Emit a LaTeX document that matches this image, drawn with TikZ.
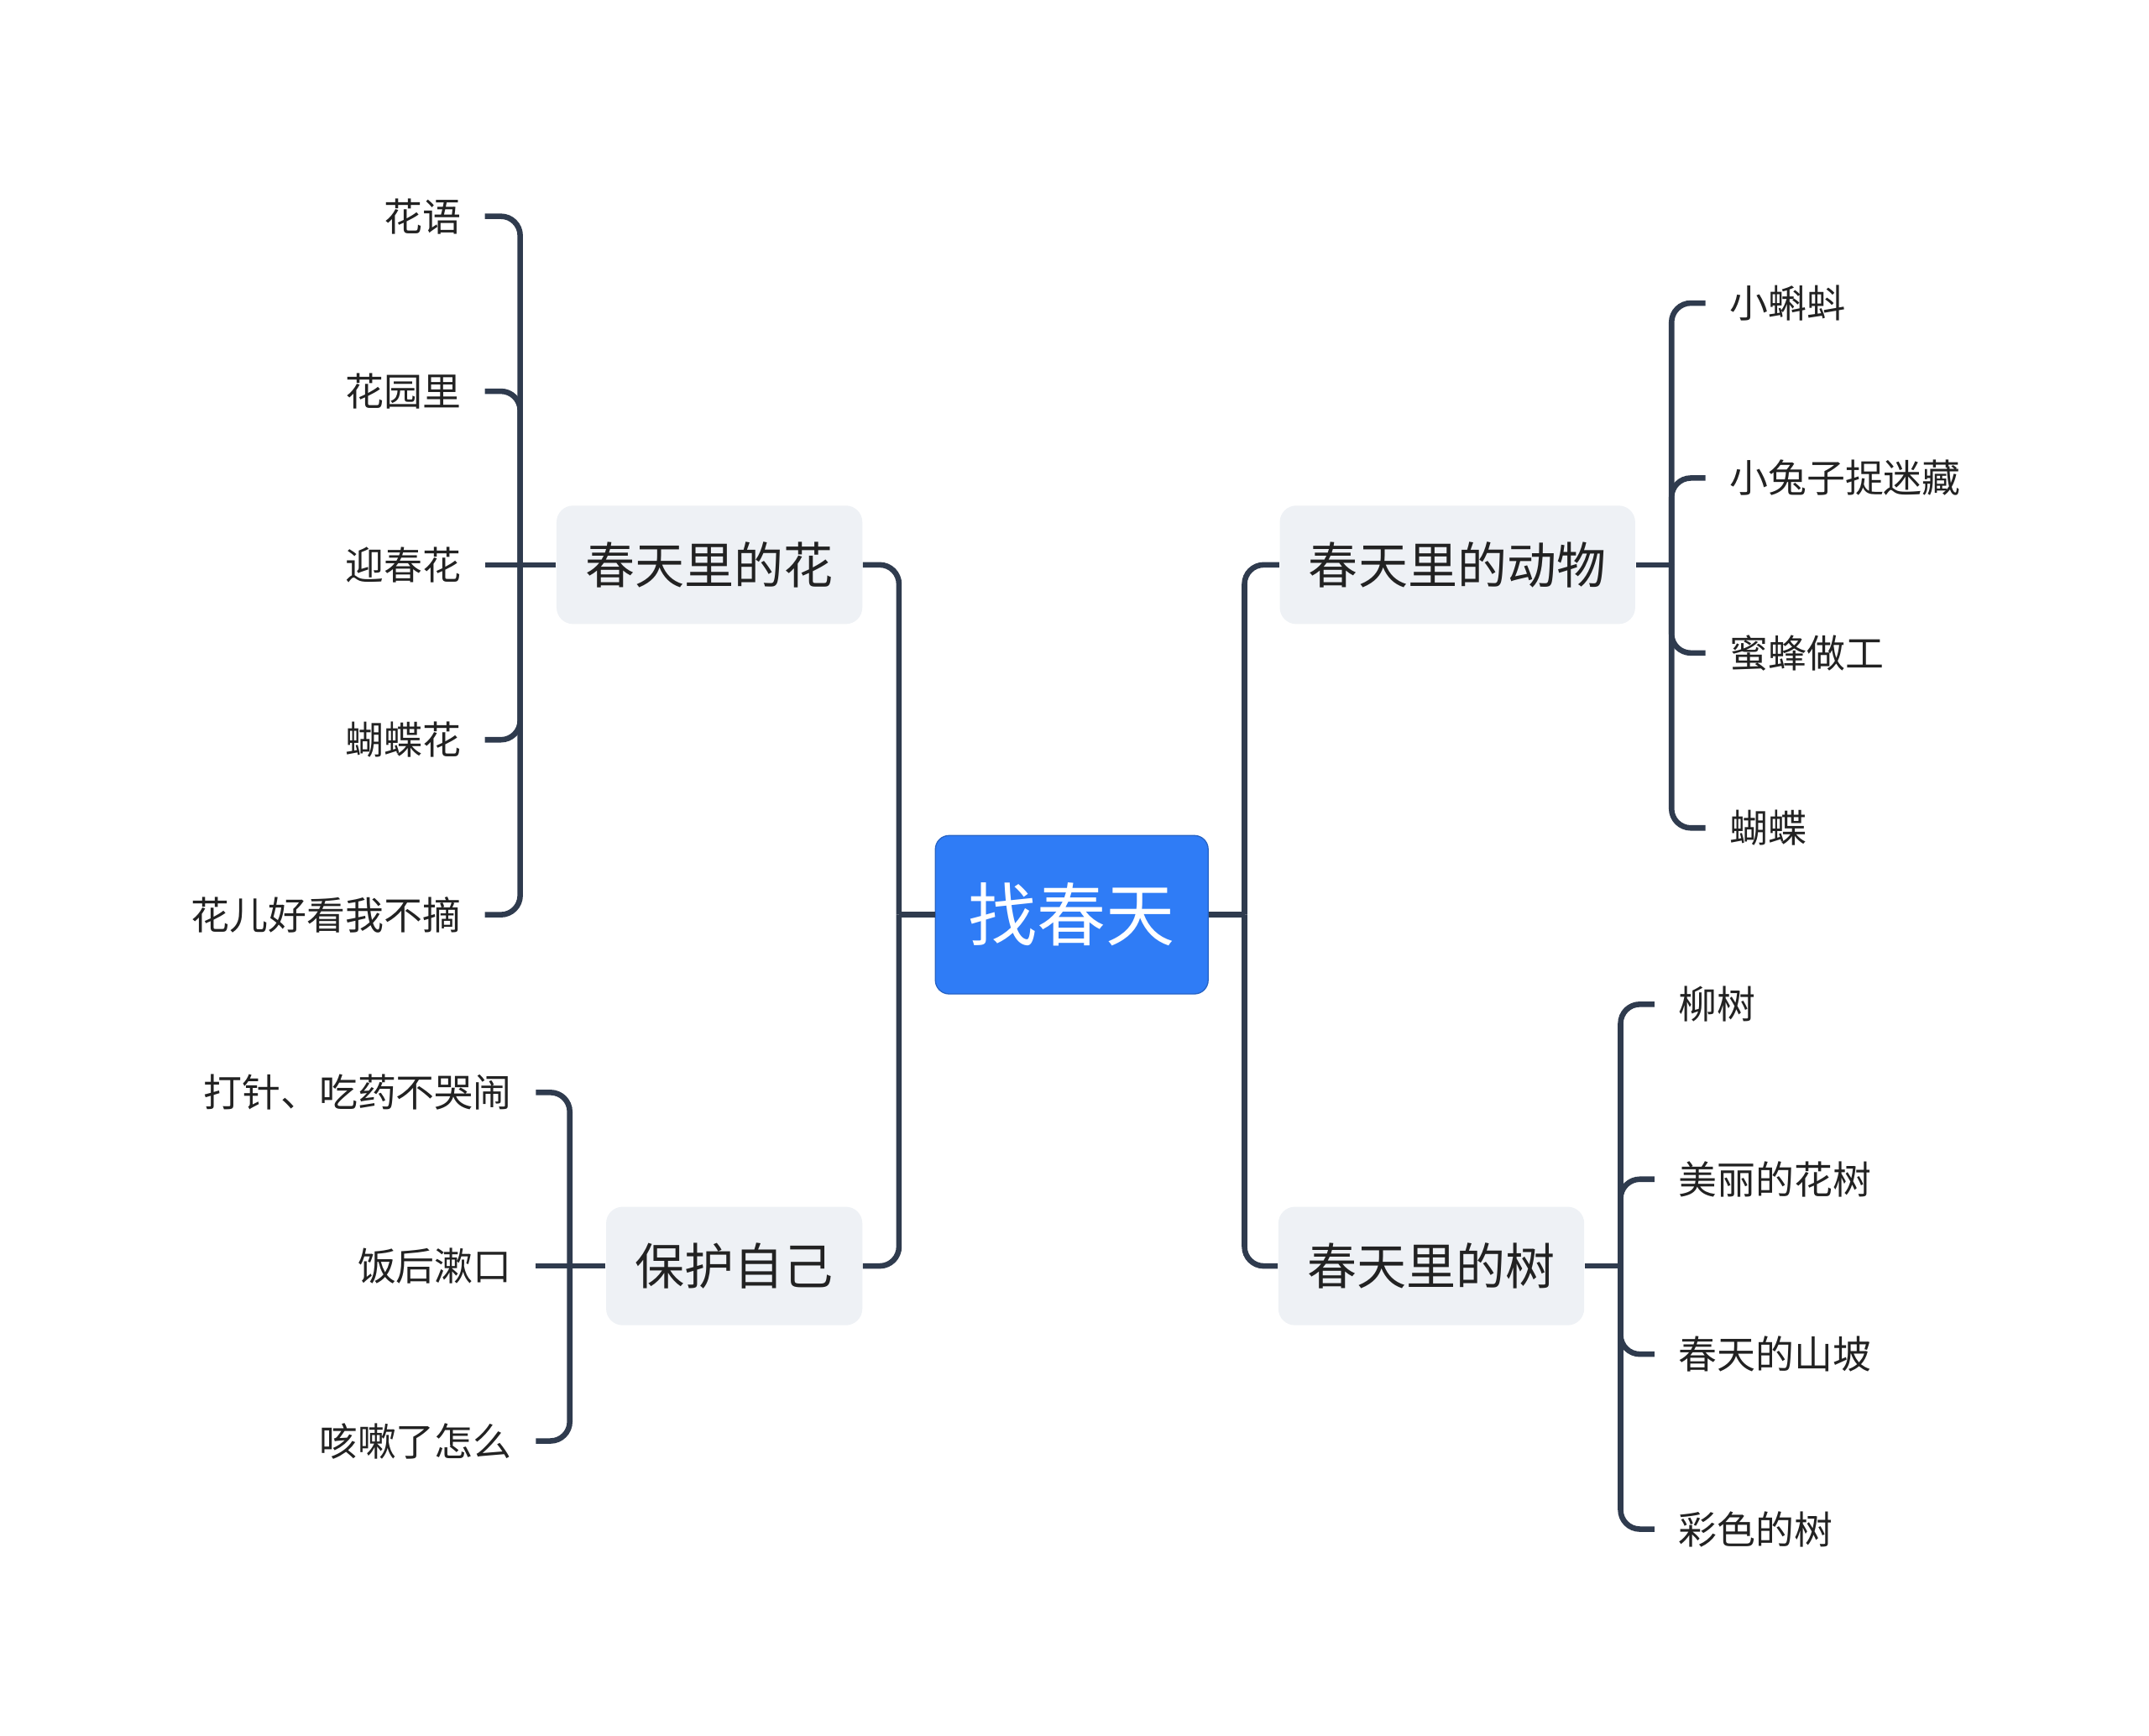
\documentclass[tikz,border=0pt]{standalone}
\usepackage{fontspec}
\usetikzlibrary{calc}
\setmainfont{Noto Sans CJK SC}
\begin{document}
\begin{tikzpicture}[x=0.5pt,y=0.5pt,
  conn/.style={draw=lc,line width=2pt,rounded corners=7pt},
  rootbox/.style={fill=rootblue,draw=rootblue!80!black,line width=0.4pt,rounded corners=5pt,text=white,font=\fontsize{25}{30}\selectfont,inner xsep=12pt,minimum height=57.5pt},
  branch/.style={fill=bfill,rounded corners=6pt,text=tc,font=\fontsize{18}{22}\selectfont,inner xsep=10.5pt,minimum height=43pt},
  leafL/.style={anchor=east,text=tc,font=\fontsize{14}{17}\selectfont,inner xsep=8.5pt,inner ysep=2pt},
  leafR/.style={anchor=west,text=tc,font=\fontsize{14}{17}\selectfont,inner xsep=8.5pt,inner ysep=2pt}]
\definecolor{lc}{HTML}{2F3B4E}
\definecolor{rootblue}{HTML}{2F7CF6}
\definecolor{bfill}{HTML}{EEF1F5}
\definecolor{tc}{HTML}{222222}
\useasboundingbox (0,0) rectangle (1560,-1260);
\node[rootbox] (root) at (778,-664) {找春天};
\node[branch] (flower) at (515,-410) {春天里的花};
\node[branch] (protect) at (533,-919) {保护自己};
\node[branch] (animal) at (1058,-410) {春天里的动物};
\node[branch] (tree) at (1039,-919) {春天里的树};
\draw[conn] (root.west) -- ++(-13pt,0);
\foreach \b in {flower,protect} \draw[conn] ($(root.west)+(-13pt,0)$) |- (\b.east);
\draw[conn] (root.east) -- ++(13pt,0);
\foreach \b in {animal,tree} \draw[conn] ($(root.east)+(13pt,0)$) |- (\b.west);
% flower leaves
\node[leafL] (f1) at (352,-157) {花语};
\node[leafL] (f2) at (352,-284) {花园里};
\node[leafL] (f3) at (352,-410) {迎春花};
\node[leafL] (f4) at (352,-537) {蝴蝶花};
\node[leafL] (f5) at (352,-664) {花儿好看我不摘};
\draw[conn] (flower.west) -- (f3.east);
\foreach \l in {f1,f2,f4,f5} \draw[conn] ($(flower.west)+(-13pt,0)$) |- (\l.east);
% protect leaves
\node[leafL] (p1) at (389,-793) {打针、吃药不哭闹};
\node[leafL] (p2) at (389,-919) {饭后漱口};
\node[leafL] (p3) at (389,-1046) {咳嗽了怎么};
\draw[conn] (protect.west) -- (p2.east);
\foreach \l in {p1,p3} \draw[conn] ($(protect.west)+(-13pt,0)$) |- (\l.east);
% animal leaves
\node[leafR] (a1) at (1238,-220) {小蝌蚪};
\node[leafR] (a2) at (1238,-347) {小兔子捉迷藏};
\node[leafR] (a3) at (1238,-474) {蜜蜂做工};
\node[leafR] (a4) at (1238,-601) {蝴蝶};
\draw[conn] (animal.east) -- ++(13pt,0);
\foreach \l in {a1,a2,a3,a4} \draw[conn] ($(animal.east)+(13pt,0)$) |- (\l.west);
% tree leaves
\node[leafR] (t1) at (1201,-729) {柳树};
\node[leafR] (t2) at (1201,-856) {美丽的花树};
\node[leafR] (t3) at (1201,-983) {春天的山坡};
\node[leafR] (t4) at (1201,-1110) {彩色的树};
\draw[conn] (tree.east) -- ++(13pt,0);
\foreach \l in {t1,t2,t3,t4} \draw[conn] ($(tree.east)+(13pt,0)$) |- (\l.west);
\end{tikzpicture}
\end{document}
